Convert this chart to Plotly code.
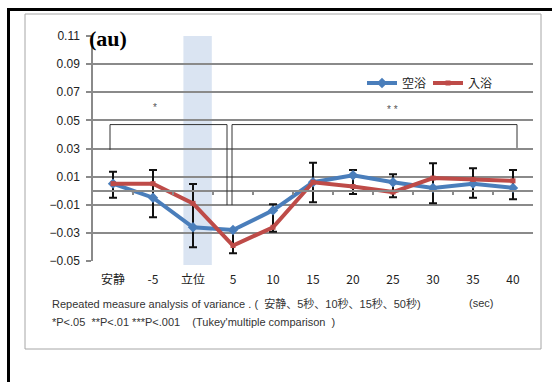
import plotly.graph_objects as go

# Categories along the time axis
categories = ["安静", "-5", "立位", "5", "10", "15", "20", "25", "30", "35", "40"]

# Series values (au)
kuuyoku = [0.005, -0.005, -0.026, -0.028, -0.014, 0.006, 0.011, 0.006, 0.002, 0.005, 0.002]
nyuuyoku = [0.005, 0.005, -0.009, -0.039, -0.026, 0.006, 0.003, -0.001, 0.009, 0.008, 0.007]

# Ends of the error bars at each time point
err_upper = [0.0135, 0.0147, 0.0048, -0.028, -0.0097, 0.0199, 0.0147, 0.0117, 0.0195, 0.0159, 0.0147]
err_lower = [-0.005, -0.0189, -0.0403, -0.0445, -0.0292, -0.0083, -0.0023, -0.0047, -0.009, -0.005, -0.0061]

y_ticks = [-0.05, -0.03, -0.01, 0.01, 0.03, 0.05, 0.07, 0.09, 0.11]

W, H = 552, 382
L, R, T, B = 93, 19, 36, 121
PW, PH = W - L - R, H - T - B


def px(xp):
    return (xp - L) / PW


def py(yp):
    return (H - B - yp) / PH


xi = list(range(len(categories)))
BLUE = "#4a7ebb"
RED = "#be4b48"
GRID = "#8a8a8a"

fig = go.Figure()

# error bars (drawn underneath the lines)
fig.add_trace(go.Scatter(
    x=xi, y=kuuyoku, mode="markers", marker=dict(size=1, color="rgba(0,0,0,0)"),
    showlegend=False, hoverinfo="skip",
    error_y=dict(type="data", symmetric=False,
                 array=[u - v for u, v in zip(err_upper, kuuyoku)],
                 arrayminus=[v - lo for v, lo in zip(kuuyoku, err_lower)],
                 color="#111111", thickness=2, width=4),
))

fig.add_trace(go.Scatter(
    x=xi, y=kuuyoku, mode="lines+markers", name="空浴",
    line=dict(color=BLUE, width=4),
    marker=dict(symbol="diamond", size=8, color=BLUE),
))
fig.add_trace(go.Scatter(
    x=xi, y=nyuuyoku, mode="lines+markers", name="入浴",
    line=dict(color=RED, width=4),
    marker=dict(symbol="square", size=5, color=RED),
))

# axis crossing at zero with boundary ticks
fig.add_trace(go.Scatter(x=[0], y=[0], xaxis="x2", mode="markers",
                         marker=dict(size=1, color="rgba(0,0,0,0)"),
                         showlegend=False, hoverinfo="skip"))

shapes = []
# standing-phase band
shapes.append(dict(type="rect", xref="x", yref="paper", x0=1.76, x1=2.47,
                   y0=py(265), y1=1.0, fillcolor="#dae4f2", line=dict(width=0),
                   layer="below"))
# significance brackets
bk = dict(color="#333333", width=1)
shapes += [
    dict(type="line", xref="x", yref="y", x0=-0.075, x1=2.85, y0=0.047, y1=0.047, line=bk),
    dict(type="line", xref="x", yref="y", x0=-0.075, x1=-0.075, y0=0.047, y1=0.029, line=bk),
    dict(type="line", xref="x", yref="y", x0=2.85, x1=2.85, y0=0.047, y1=-0.0102, line=bk),
    dict(type="line", xref="x", yref="y", x0=2.975, x1=10.1, y0=0.047, y1=0.047, line=bk),
    dict(type="line", xref="x", yref="y", x0=2.975, x1=2.975, y0=0.047, y1=-0.0102, line=bk),
    dict(type="line", xref="x", yref="y", x0=10.1, x1=10.1, y0=0.047, y1=0.0304, line=bk),
]
# inner chart frame
shapes.append(dict(type="rect", xref="paper", yref="paper", x0=px(25), x1=px(541),
                   y0=py(349), y1=py(14), line=dict(color="#a6a6a6", width=1)))
# outer black frame edges
shapes.append(dict(type="line", xref="paper", yref="paper", x0=px(8.5), x1=px(560),
                   y0=py(9.5), y1=py(9.5), line=dict(color="#000000", width=3)))
shapes.append(dict(type="line", xref="paper", yref="paper", x0=px(8.5), x1=px(8.5),
                   y0=py(8), y1=py(390), line=dict(color="#000000", width=3)))

note_font = dict(family="Liberation Sans, Noto Sans CJK JP", size=11, color="#333333")
annotations = [
    dict(text="<b>(au)</b>", xref="paper", yref="paper", x=px(87), y=py(38.5),
         xanchor="left", yanchor="middle", showarrow=False,
         font=dict(family="Liberation Serif", size=22, color="#000000")),
    dict(text="*", xref="x", yref="y", x=1.05, y=0.0595, showarrow=False,
         font=dict(family="Liberation Sans", size=10, color="#555555")),
    dict(text="* *", xref="x", yref="y", x=6.975, y=0.0575, showarrow=False,
         font=dict(family="Liberation Sans", size=10, color="#555555")),
    dict(text="Repeated measure analysis of variance . (  安静、5秒、10秒、15秒、50秒)",
         xref="paper", yref="paper", x=px(50), y=py(303), xanchor="left", yanchor="middle",
         showarrow=False, font=note_font),
    dict(text="(sec)", xref="paper", yref="paper", x=px(467), y=py(303),
         xanchor="left", yanchor="middle", showarrow=False, font=note_font),
    dict(text="*P<.05  **P<.01 ***P<.001    (Tukey'multiple comparison  )",
         xref="paper", yref="paper", x=px(50), y=py(322), xanchor="left", yanchor="middle",
         showarrow=False, font=note_font),
]

fig.update_layout(
    width=W, height=H,
    margin=dict(l=L, r=R, t=T, b=B),
    paper_bgcolor="white", plot_bgcolor="white",
    font=dict(family="Noto Sans CJK JP, Liberation Sans", size=11, color="#222222"),
    showlegend=True,
    legend=dict(orientation="h", x=px(362), y=py(83), xanchor="left", yanchor="middle",
                bgcolor="rgba(0,0,0,0)", font=dict(size=12, color="#222222"),
                itemwidth=30, entrywidth=21, tracegroupgap=0),
    xaxis=dict(range=[-0.5, 10.5], tickvals=xi, ticktext=categories,
               showgrid=False, zeroline=False, showline=False, ticks="",
               ticklabelstandoff=10, tickfont=dict(size=12, color="#222222"),
               fixedrange=True),
    xaxis2=dict(range=[-0.5, 10.5], overlaying="x", anchor="free", position=0.3125,
                side="bottom", showline=True, linecolor=GRID, linewidth=1.5,
                ticks="outside", ticklen=4, tickcolor=GRID, tickwidth=1.5,
                tickvals=[i + 0.5 for i in xi[:-1]], showticklabels=False,
                showgrid=False, zeroline=False),
    yaxis=dict(range=[-0.05, 0.11], tickvals=y_ticks, tickformat=".2f",
               showgrid=True, gridcolor=GRID, gridwidth=1.5,
               zeroline=False, showline=True, linecolor=GRID, linewidth=1.5,
               ticks="outside", ticklen=5, tickcolor=GRID, tickwidth=1.5,
               ticklabelstandoff=4,
               tickfont=dict(size=12, color="#222222", family="Liberation Sans")),
    shapes=shapes,
    annotations=annotations,
)

fig.write_html("out.html")
